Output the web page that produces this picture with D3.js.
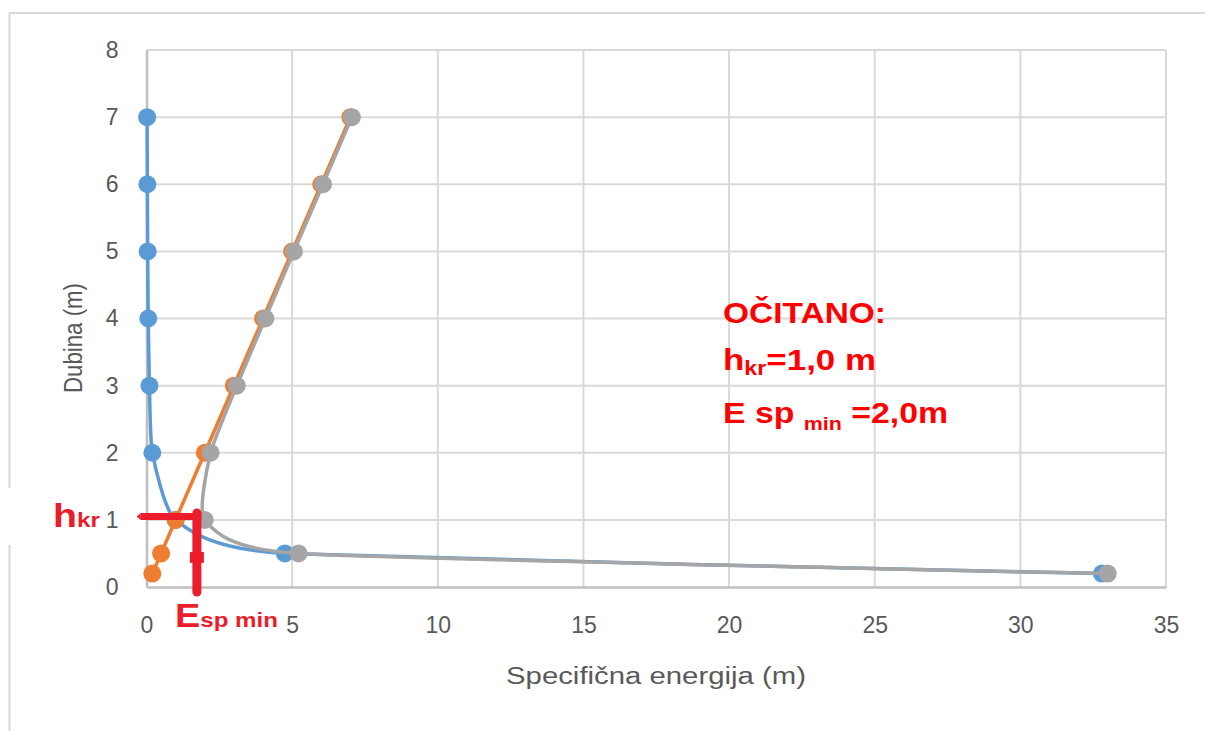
<!DOCTYPE html>
<html>
<head>
<meta charset="utf-8">
<script src="https://cdn.jsdelivr.net/npm/d3@7"></script>
<style>
  html, body { margin: 0; padding: 0; background: #fff; }
  svg { display: block; }
</style>
</head>
<body>
<svg id="chart" width="1205" height="731"></svg>
<script>
// ---- data ----
const depths = [7, 6, 5, 4, 3, 2, 1, 0.5, 0.2];
const kineticE = [0.02, 0.03, 0.04, 0.06, 0.1, 0.2, 1.0, 4.75, 32.8];   // blue
const potentialE = [7, 6, 5, 4, 3, 2, 1, 0.5, 0.2];                    // orange
const totalE = [7.05, 6.06, 5.06, 4.08, 3.1, 2.2, 2.0, 5.22, 33.0];    // gray
const xTicks = [0, 5, 10, 15, 20, 25, 30, 35];
const yTicks = [0, 1, 2, 3, 4, 5, 6, 7, 8];
const xTitle = "Specifična energija (m)";
const yTitle = "Dubina (m)";
const hkrMark = 1.05, eMinMark = 1.73;

const svg = d3.select("#chart");
const x = d3.scaleLinear().domain([0, 35]).range([146.5, 1166]);
const y = d3.scaleLinear().domain([0, 8]).range([587, 50]);

// outer border
svg.append("rect").attr("x", 9.5).attr("y", 13).attr("width", 1210).attr("height", 740)
  .attr("fill", "#fff").attr("stroke", "#d9d9d9").attr("stroke-width", 2);

// grid
const grid = svg.append("g");
grid.selectAll("line.h").data(yTicks.filter(d => d > 0)).join("line")
  .attr("x1", x(0)).attr("x2", x(35)).attr("y1", d => y(d)).attr("y2", d => y(d))
  .attr("stroke", "#d9d9d9").attr("stroke-width", 2);
grid.selectAll("line.v").data(xTicks.filter(d => d > 0)).join("line")
  .attr("y1", y(0)).attr("y2", y(8)).attr("x1", d => x(d)).attr("x2", d => x(d))
  .attr("stroke", "#d9d9d9").attr("stroke-width", 2);

// axes
const font = "'Liberation Sans', Arial, sans-serif";
const xAxis = svg.append("g").attr("transform", `translate(0,${y(0)})`)
  .call(d3.axisBottom(x).tickValues(xTicks).tickSize(0).tickPadding(30).tickFormat(d3.format("d")));
const yAxis = svg.append("g").attr("transform", `translate(${x(0)},0)`)
  .call(d3.axisLeft(y).tickValues(yTicks).tickSize(0).tickPadding(28).tickFormat(d3.format("d")));
[xAxis, yAxis].forEach(a => {
  a.select(".domain").attr("stroke", "#bfbfbf").attr("stroke-width", 2.5);
  a.selectAll("text").attr("fill", "#595959").style("font-family", font).style("font-size", "23px");
});

// titles
svg.append("text").attr("x", 656).attr("y", 684).attr("text-anchor", "middle")
  .attr("textLength", 300).attr("lengthAdjust", "spacingAndGlyphs")
  .style("font-family", font).style("font-size", "23px").attr("fill", "#595959").text(xTitle);
svg.append("text").attr("transform", "translate(82,338) rotate(-90)").attr("text-anchor", "middle")
  .attr("textLength", 110).attr("lengthAdjust", "spacingAndGlyphs")
  .style("font-family", font).style("font-size", "25px").attr("fill", "#595959").text(yTitle);

// series
const series = [
  { vals: kineticE, color: "#5B9BD5" },
  { vals: potentialE, color: "#ED7D31" },
  { vals: totalE, color: "#A5A5A5" }
];
const line = d3.line().x(d => x(d[0])).y(d => y(d[1])).curve(d3.curveCardinal.tension(0.5));
series.forEach(s => {
  const pts = s.vals.map((v, i) => [v, depths[i]]);
  svg.append("path").datum(pts).attr("d", line).attr("fill", "none")
    .attr("stroke", s.color).attr("stroke-width", 3.5).attr("stroke-linejoin", "round");
  svg.append("g").selectAll("circle").data(pts).join("circle")
    .attr("cx", d => x(d[0])).attr("cy", d => y(d[1])).attr("r", 9).attr("fill", s.color);
});

// red annotation marks
const red = "#EC1C2A";
svg.append("rect").attr("x", 0).attr("y", 488).attr("width", 104).attr("height", 57).attr("fill", "#fff");
svg.append("line").attr("x1", x(-0.2)).attr("x2", x(eMinMark) + 4.5).attr("y1", y(hkrMark)).attr("y2", y(hkrMark))
  .attr("stroke", red).attr("stroke-width", 7);
svg.append("path").attr("d", `M${x(-0.2)},${y(hkrMark) - 3.5} l-4,3.5 l4,3.5 z`).attr("fill", red);
svg.append("line").attr("x1", x(eMinMark)).attr("x2", x(eMinMark)).attr("y1", y(hkrMark) - 3.5).attr("y2", y(-0.075))
  .attr("stroke", red).attr("stroke-width", 9).attr("stroke-linecap", "round");
svg.append("rect").attr("x", x(eMinMark) - 7).attr("y", y(0.52)).attr("width", 14).attr("height", y(0.36) - y(0.52))
  .attr("fill", red);

// red labels
const hk = svg.append("text").attr("x", 53).attr("y", 527).attr("textLength", 47).attr("lengthAdjust", "spacingAndGlyphs")
  .style("font-family", font).style("font-weight", "bold").attr("fill", red);
hk.append("tspan").style("font-size", "34px").text("h");
hk.append("tspan").style("font-size", "21px").text("kr");
const es = svg.append("text").attr("x", 175).attr("y", 627).attr("textLength", 103).attr("lengthAdjust", "spacingAndGlyphs")
  .style("font-family", font).style("font-weight", "bold").attr("fill", red);
es.append("tspan").style("font-size", "33px").text("E");
es.append("tspan").style("font-size", "21px").text("sp min");

// reading note
const note = svg.append("g").style("font-family", font).style("font-weight", "bold").attr("fill", "#FF0000");
note.append("text").attr("x", 723).attr("y", 323).attr("textLength", 163).attr("lengthAdjust", "spacingAndGlyphs")
  .style("font-size", "30px").text("OČITANO:");
const l2 = note.append("text").attr("x", 723).attr("y", 370).attr("textLength", 153).attr("lengthAdjust", "spacingAndGlyphs")
  .style("font-size", "30px");
l2.append("tspan").text("h");
l2.append("tspan").attr("dy", 5).style("font-size", "20px").text("kr");
l2.append("tspan").attr("dy", -5).text("=1,0 m");
const l3 = note.append("text").attr("x", 723).attr("y", 423).attr("textLength", 225).attr("lengthAdjust", "spacingAndGlyphs")
  .style("font-size", "30px");
l3.append("tspan").text("E sp ");
l3.append("tspan").attr("dy", 7).style("font-size", "19px").text("min");
l3.append("tspan").attr("dy", -7).text(" =2,0m");
</script>
</body>
</html>
